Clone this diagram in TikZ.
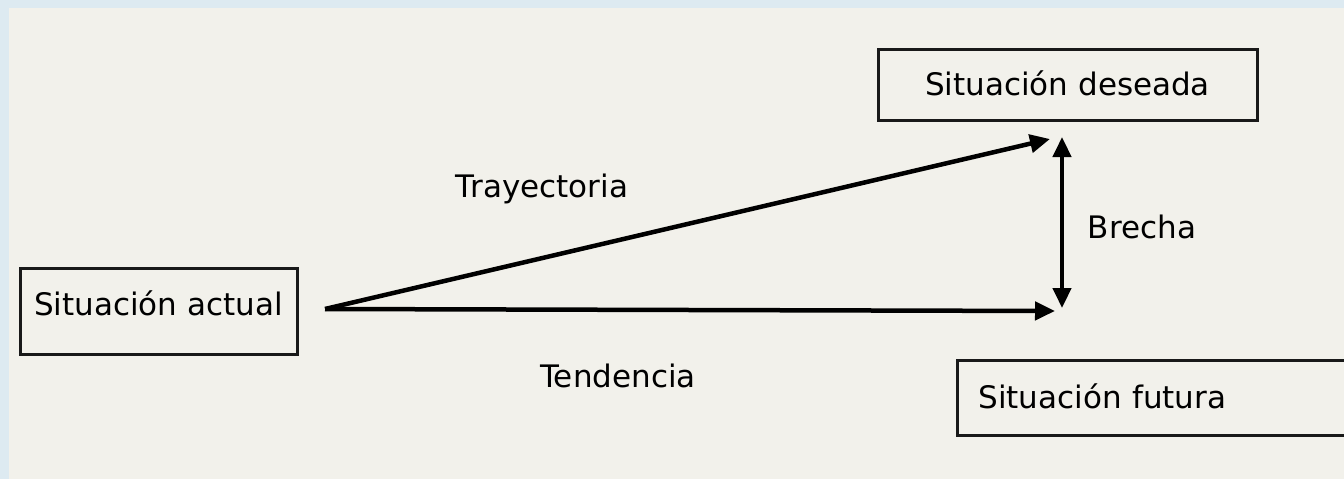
\documentclass[tikz,border=0pt]{standalone}
\usepackage{fontspec}
\setmainfont{DejaVu Sans}
\usepackage{tikz}
\usetikzlibrary{positioning,arrows.meta}
\usepackage{xcolor}
\definecolor{paper}{HTML}{F2F1EB}
\definecolor{frame}{HTML}{DDEAF1}

\begin{document}
\begin{tikzpicture}[
    x=1pt, y=-1pt,
    box/.style={draw=black!90, line width=3pt, inner sep=0pt,
                text height=22pt, text depth=0pt,
                font=\fontsize{31}{37}\selectfont},
    lbl/.style={anchor=base, font=\fontsize{31}{37}\selectfont},
    arr/.style={-{Triangle[length=20pt, width=18pt]}, line width=4.5pt},
    darr/.style={{Triangle[length=20pt, width=18pt]}-{Triangle[length=20pt, width=18pt]}, line width=4.5pt}
  ]
  \clip (0,0) rectangle (1344,479);
  \fill[frame] (0,0) rectangle (1344,479);
  \fill[paper] (9,8) rectangle (1344,479);

  % Situations
  \node[box, minimum width=277pt, minimum height=86pt, text depth=14pt]
    (actual) at (158.5,311) {Situación actual};
  \node[box, minimum width=379pt, minimum height=71pt]
    (deseada) at (1067.5,84.5) {Situación deseada};
  \node[box, anchor=west, minimum height=75pt, inner xsep=21pt,
        text width=400pt, align=left]
    (futura) at (956,397.5) {Situación futura};

  % Arrow ends
  \coordinate (origen) at (325,309);
  \coordinate (metaD) at (1050,139);
  \coordinate (metaF) at (1055,311);
  \coordinate (gapT) at (1062,137);
  \coordinate (gapB) at (1062,308);

  % Arrows
  \draw[arr] (origen) -- (metaD);
  \draw[arr] (origen) -- (metaF);
  \draw[darr] (gapT) -- (gapB);

  % Labels
  \node[lbl] (tray) at (542,197) {Trayectoria};
  \node[lbl] (tend) at (618,387) {Tendencia};
  \node[lbl] (brecha) at (1142,238) {Brecha};
\end{tikzpicture}
\end{document}
